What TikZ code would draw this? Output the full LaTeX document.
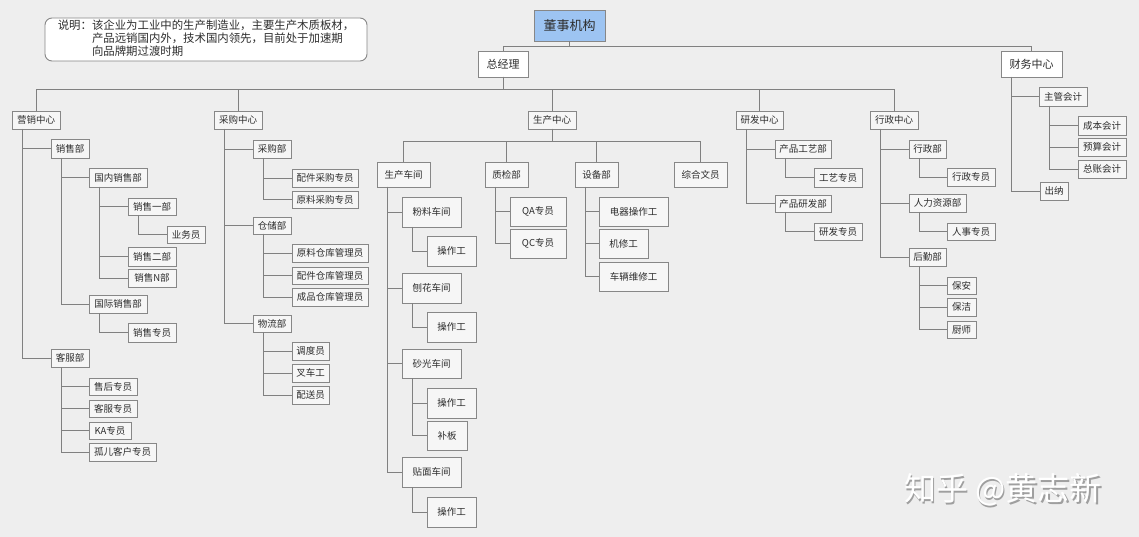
\documentclass[tikz,border=0pt]{standalone}
\usepackage{fontspec}
\setmainfont{Noto Sans CJK SC}
\definecolor{bg}{RGB}{238,238,238}
\definecolor{boxfill}{RGB}{246,246,246}
\definecolor{boxline}{RGB}{135,135,135}
\definecolor{conncol}{RGB}{128,128,128}
\definecolor{boardblue}{RGB}{157,196,242}
\definecolor{txt}{RGB}{45,45,45}
\tikzset{
  box/.style={draw=boxline,line width=0.9pt,fill=boxfill,inner sep=0pt,outer sep=0pt,
    text=txt,font=\fontsize{9.5}{10}\selectfont},
  big/.style={fill=white,font=\fontsize{11}{12}\selectfont},
  conn/.style={draw=conncol,line width=0.9pt},
}
\newcommand\bx[7][]{\node[box,#1,minimum width={(#5-#3)*1pt},minimum height={(#6-#4)*1pt}] (#2) at ({(#3+#5)/2},{(#4+#6)/2}) {#7};}
\newcommand\tree[2]{\draw[conn] ([xshift=10pt]#1.south west) |- (#2.west);}
\begin{document}
\begin{tikzpicture}[x=1pt,y=-1pt]
\useasboundingbox (0,0) rectangle (1139,537);
\fill[bg] (0,0) rectangle (1139,537);

% note
\node[draw=boxline,line width=0.9pt,fill=white,rounded corners=7pt,inner sep=0pt,
  minimum width=322pt,minimum height=43pt,text=txt,font=\fontsize{11.4}{12}\selectfont] (note) at (206,39.5)
  {\begin{tabular}{@{}l@{}l@{}}说明：&该企业为工业中的生产制造业，主要生产木质板材，\\&产品远销国内外，技术国内领先，目前处于加速期\\&向品牌期过渡时期\end{tabular}};

% top levels
\bx[fill=boardblue,font=\fontsize{13}{14}\selectfont]{board}{534}{10}{605}{41}{董事机构}
\bx[big]{gm}{478}{51}{528}{77}{总经理}
\bx[big]{fin}{1001}{51}{1062}{77}{财务中心}
\bx{mkt}{12}{111}{60}{129}{营销中心}
\bx{pur}{214}{111}{262}{129}{采购中心}
\bx{prod}{528}{111}{576}{129}{生产中心}
\bx{rd}{736}{111}{783}{129}{研发中心}
\bx{adm}{870}{111}{918}{129}{行政中心}

\draw[conn] (board.south) -- ++(0,5) -| (gm.north);
\draw[conn] (board.south) -- ++(0,5) -| (fin.north);
\foreach \c in {mkt,pur,prod,rd,adm}{\draw[conn] (gm.south) -- ++(0,12) -| (\c.north);}

% marketing
\bx{s}{51}{139}{89}{158}{销售部}
\bx{sd}{89}{168}{147}{187}{国内销售部}
\bx{s1}{128}{198}{176}{215}{销售一部}
\bx{yw}{167}{226}{205}{243}{业务员}
\bx{s2}{128}{247}{176}{266}{销售二部}
\bx{sn}{128}{269}{176}{287}{销售N部}
\bx{si}{89}{295}{147}{313}{国际销售部}
\bx{sz}{128}{323}{176}{342}{销售专员}
\bx{kf}{51}{349}{89}{367}{客服部}
\bx{k1}{89}{378}{137}{395}{售后专员}
\bx{k2}{89}{400}{137}{417}{客服专员}
\bx{k3}{89}{422}{131}{439}{KA专员}
\bx{k4}{89}{443}{156}{461}{孤儿客户专员}
\tree{mkt}{s}\tree{mkt}{kf}
\tree{s}{sd}\tree{s}{si}
\tree{sd}{s1}\tree{sd}{s2}\tree{sd}{sn}
\tree{s1}{yw}\tree{si}{sz}
\tree{kf}{k1}\tree{kf}{k2}\tree{kf}{k3}\tree{kf}{k4}

% purchasing
\bx{cg}{253}{140}{291}{158}{采购部}
\bx{cg1}{292}{169}{358}{187}{配件采购专员}
\bx{cg2}{292}{191}{358}{208}{原料采购专员}
\bx{cc}{253}{217}{291}{234}{仓储部}
\bx{cc1}{292}{244}{368}{262}{原料仓库管理员}
\bx{cc2}{292}{267}{368}{284}{配件仓库管理员}
\bx{cc3}{292}{288}{368}{306}{成品仓库管理员}
\bx{wl}{253}{315}{291}{332}{物流部}
\bx{wl1}{292}{342}{329}{360}{调度员}
\bx{wl2}{292}{364}{329}{382}{叉车工}
\bx{wl3}{292}{386}{329}{404}{配送员}
\tree{pur}{cg}\tree{pur}{cc}\tree{pur}{wl}
\tree{cg}{cg1}\tree{cg}{cg2}
\tree{cc}{cc1}\tree{cc}{cc2}\tree{cc}{cc3}
\tree{wl}{wl1}\tree{wl}{wl2}\tree{wl}{wl3}

% production
\bx{cj}{377}{162}{430}{187}{生产车间}
\bx{fl}{402}{197}{461}{227}{粉料车间}
\bx{fl1}{427}{236}{476}{266}{操作工}
\bx{bh}{402}{273}{461}{303}{刨花车间}
\bx{bh1}{427}{312}{476}{342}{操作工}
\bx{sg}{402}{349}{461}{378}{砂光车间}
\bx{sg1}{427}{388}{476}{418}{操作工}
\bx{sg2}{427}{421}{467}{450}{补板}
\bx{tm}{402}{457}{461}{487}{贴面车间}
\bx{tm1}{427}{497}{476}{527}{操作工}
\bx{zj}{485}{162}{528}{187}{质检部}
\bx{qa}{510}{197}{566}{226}{QA专员}
\bx{qc}{510}{229}{566}{258}{QC专员}
\bx{sb}{575}{162}{618}{187}{设备部}
\bx{sb1}{599}{197}{668}{226}{电器操作工}
\bx{sb2}{599}{229}{648}{258}{机修工}
\bx{sb3}{599}{262}{668}{291}{车辆维修工}
\bx{zh}{674}{162}{727}{187}{综合文员}
\foreach \c in {cj,zj,sb,zh}{\draw[conn] (prod.south) -- ++(0,12) -| (\c.north);}
\tree{cj}{fl}\tree{cj}{bh}\tree{cj}{sg}\tree{cj}{tm}
\tree{fl}{fl1}\tree{bh}{bh1}\tree{sg}{sg1}\tree{sg}{sg2}\tree{tm}{tm1}
\tree{zj}{qa}\tree{zj}{qc}
\tree{sb}{sb1}\tree{sb}{sb2}\tree{sb}{sb3}

% R&D
\bx{gy}{775}{140}{831}{158}{产品工艺部}
\bx{gy1}{814}{168}{862}{187}{工艺专员}
\bx{yf}{775}{195}{831}{212}{产品研发部}
\bx{yf1}{814}{223}{862}{240}{研发专员}
\tree{rd}{gy}\tree{rd}{yf}\tree{gy}{gy1}\tree{yf}{yf1}

% admin
\bx{xz}{909}{140}{946}{158}{行政部}
\bx{xz1}{947}{168}{995}{186}{行政专员}
\bx{rl}{909}{194}{966}{212}{人力资源部}
\bx{rl1}{947}{223}{995}{240}{人事专员}
\bx{hq}{909}{248}{946}{266}{后勤部}
\bx{ba}{947}{277}{976}{294}{保安}
\bx{bj}{947}{298}{976}{316}{保洁}
\bx{cs}{947}{321}{976}{338}{厨师}
\tree{adm}{xz}\tree{adm}{rl}\tree{adm}{hq}
\tree{xz}{xz1}\tree{rl}{rl1}
\tree{hq}{ba}\tree{hq}{bj}\tree{hq}{cs}

% finance
\bx{zg}{1039}{87}{1087}{106}{主管会计}
\bx{cb}{1078}{116}{1126}{135}{成本会计}
\bx{ys}{1078}{138}{1126}{156}{预算会计}
\bx{zz}{1078}{160}{1126}{178}{总账会计}
\bx{cn}{1040}{182}{1068}{200}{出纳}
\tree{fin}{zg}\tree{fin}{cn}
\tree{zg}{cb}\tree{zg}{ys}\tree{zg}{zz}

% watermark
\node[text=gray!75,font=\fontsize{32}{33}\selectfont,inner sep=0pt] (wmshadow) at (1004.5,491.5) {知乎 @黄志新};
\node[text=white,font=\fontsize{32}{33}\selectfont,inner sep=0pt] (wm) at (1003,490) {知乎 @黄志新};
\end{tikzpicture}
\end{document}
